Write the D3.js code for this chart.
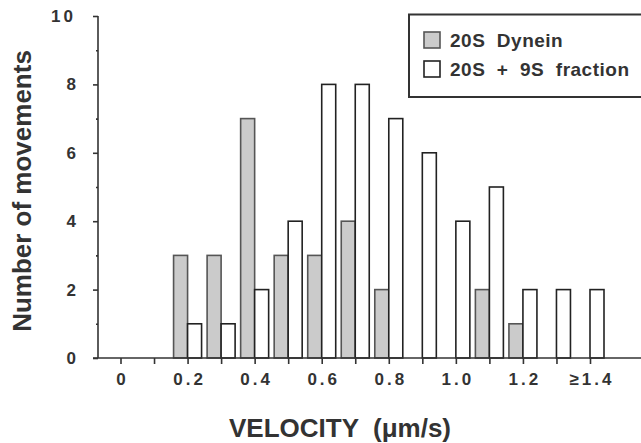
<!DOCTYPE html>
<html>
<head>
<meta charset="utf-8">
<script src="https://cdn.jsdelivr.net/npm/d3@7"></script>
<style>
  body { margin: 0; background: #fff; }
  svg { display: block; font-family: "Liberation Sans", Arial, sans-serif; }
</style>
</head>
<body>
<svg></svg>
<script>
// velocity bins (µm/s), last bin means >= 1.4
let bins = [0, 0.1, 0.2, 0.3, 0.4, 0.5, 0.6, 0.7, 0.8, 0.9, 1.0, 1.1, 1.2, 1.3, 1.4];
let dynein = [0, 0, 3, 3, 7, 3, 3, 4, 2, 0, 0, 2, 1, 0, 0];
let fraction = [0, 0, 1, 1, 2, 4, 8, 8, 7, 6, 4, 5, 2, 2, 2];
let xTickLabels = ['0', '', '0.2', '', '0.4', '', '0.6', '', '0.8', '', '1.0', '', '1.2', '', '\u22651.4'];
let yTicks = [0, 2, 4, 6, 8, 10];
let legendLabels = ['20S  Dynein', '20S  +  9S  fraction'];

let w = 641;
let h = 443;
let svg = d3.select('svg').attr('width', w).attr('height', h);
let barW = 14;
let grey = '#cbcbcb';

let xScale = d3.scaleLinear().domain([0, 1.4]).range([120.5, 590]);
let yScale = d3.scaleLinear().domain([0, 10]).range([358, 16]);

let drawBars = () => {
    let gData = bins.map((b, i) => ({ b: b, v: dynein[i] })).filter(d => d.v > 0);
    let wData = bins.map((b, i) => ({ b: b, v: fraction[i] })).filter(d => d.v > 0);

    svg.append('g').selectAll('rect')
        .data(gData)
        .enter()
        .append('rect')
        .attr('x', d => xScale(d.b) - barW)
        .attr('y', d => yScale(d.v))
        .attr('width', barW)
        .attr('height', d => yScale(0) - yScale(d.v))
        .attr('fill', grey)
        .attr('stroke', '#555')
        .attr('stroke-width', 1.6);

    svg.append('g').selectAll('rect')
        .data(wData)
        .enter()
        .append('rect')
        .attr('x', d => xScale(d.b))
        .attr('y', d => yScale(d.v))
        .attr('width', barW)
        .attr('height', d => yScale(0) - yScale(d.v))
        .attr('fill', '#fff')
        .attr('stroke', '#222')
        .attr('stroke-width', 1.6);
}

let drawAxes = () => {
    let xAxis = d3.axisBottom(xScale)
        .tickValues(bins)
        .tickSize(6)
        .tickPadding(9)
        .tickFormat((d, i) => xTickLabels[i]);

    let gx = svg.append('g')
        .attr('transform', 'translate(0,' + yScale(0) + ')')
        .call(xAxis);
    gx.select('.domain').remove();
    gx.selectAll('line').attr('stroke', '#333').attr('stroke-width', 1.6);
    gx.selectAll('text')
        .attr('font-size', 17)
        .attr('font-weight', 'bold')
        .attr('letter-spacing', 3)
        .attr('dx', 1.5)
        .attr('fill', '#333');
    gx.append('line')
        .attr('x1', 93).attr('x2', w)
        .attr('stroke', '#333')
        .attr('stroke-width', 1.6);

    let yAxis = d3.axisLeft(yScale)
        .ticks(10)
        .tickSize(5)
        .tickPadding(17)
        .tickFormat(d => yTicks.includes(d) ? d : '');

    let gy = svg.append('g')
        .attr('transform', 'translate(98,0)')
        .call(yAxis);
    gy.select('.domain').remove();
    gy.selectAll('.tick line')
        .attr('x2', d => yTicks.includes(d) ? -5 : -2)
        .attr('stroke', '#333')
        .attr('stroke-width', 1.6);
    gy.selectAll('text')
        .attr('font-size', 17)
        .attr('font-weight', 'bold')
        .attr('letter-spacing', d => d == 10 ? 3 : 0)
        .attr('fill', '#333');
    gy.append('line')
        .attr('y1', yScale(10)).attr('y2', yScale(0))
        .attr('stroke', '#333')
        .attr('stroke-width', 1.6);

    svg.append('text')
        .attr('x', 340)
        .attr('y', 437)
        .attr('text-anchor', 'middle')
        .attr('font-size', 26)
        .attr('font-weight', 'bold')
        .attr('fill', '#333')
        .attr('xml:space', 'preserve')
        .text('VELOCITY  (\u03bcm/s)');

    svg.append('text')
        .attr('transform', 'translate(31,191) rotate(-90)')
        .attr('text-anchor', 'middle')
        .attr('font-size', 26)
        .attr('font-weight', 'bold')
        .attr('fill', '#333')
        .text('Number of movements');
}

let drawLegend = () => {
    svg.append('rect')
        .attr('x', 409).attr('y', 14.5)
        .attr('width', 240).attr('height', 82.5)
        .attr('fill', '#fff')
        .attr('stroke', '#333')
        .attr('stroke-width', 2);

    let fills = [grey, '#fff'];
    let strokes = ['#555', '#222'];
    legendLabels.forEach((lab, i) => {
        let y0 = 32 + i * 29;
        svg.append('rect')
            .attr('x', 424).attr('y', y0)
            .attr('width', 16).attr('height', 16)
            .attr('fill', fills[i])
            .attr('stroke', strokes[i])
            .attr('stroke-width', 1.6);
        svg.append('text')
            .attr('x', 450).attr('y', y0 + 15)
            .attr('font-size', 19)
            .attr('font-weight', 'bold')
            .attr('letter-spacing', 0.5)
            .attr('fill', '#333')
            .attr('xml:space', 'preserve')
            .text(lab);
    });
}

drawBars();
drawAxes();
drawLegend();
</script>
</body>
</html>
